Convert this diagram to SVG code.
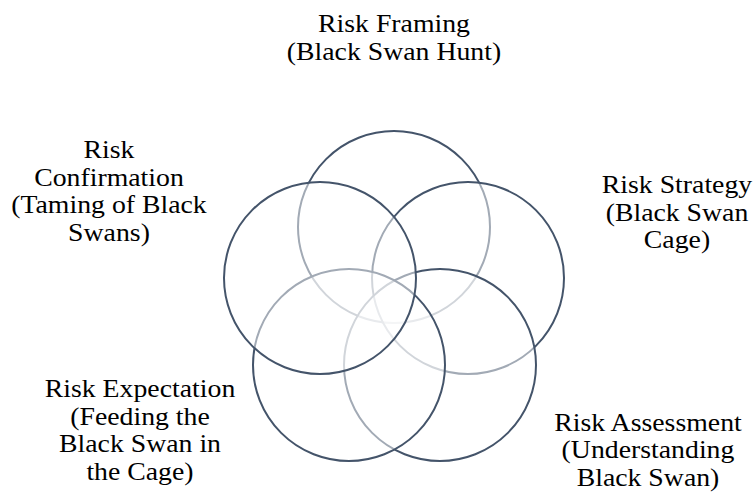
<svg xmlns="http://www.w3.org/2000/svg" width="755" height="494" viewBox="0 0 755 494">
<style>
.c{fill:#ffffff;fill-opacity:0.5;stroke:#44546A;stroke-width:2}
.t{font-family:"Liberation Serif","Times New Roman",serif;font-size:24.8px;fill:#000;text-anchor:middle}
</style>
<rect width="755" height="494" fill="#ffffff"/>
<g id="circles">
<g id="c-framing"><circle class="c" cx="394" cy="227" r="96"/></g>
<g id="c-strategy"><circle class="c" cx="468" cy="278" r="96"/></g>
<g id="c-assessment"><circle class="c" cx="440" cy="365" r="96"/></g>
<g id="c-expectation"><circle class="c" cx="349" cy="365" r="96"/></g>
<g id="c-confirmation"><circle class="c" cx="320" cy="278" r="96"/></g>
</g>
<g id="labels">
<g id="l-framing" transform="translate(394,0) scale(1.12,1)"><text class="t" x="0" y="32">Risk Framing</text><text class="t" x="0" y="59.6">(Black Swan Hunt)</text></g>
<g id="l-strategy" transform="translate(677,0) scale(1.12,1)"><text class="t" x="0" y="193">Risk Strategy</text><text class="t" x="0" y="220.6">(Black Swan</text><text class="t" x="0" y="248.2">Cage)</text></g>
<g id="l-assessment" transform="translate(648,0) scale(1.12,1)"><text class="t" x="0" y="430.6">Risk Assessment</text><text class="t" x="0" y="458.2">(Understanding</text><text class="t" x="0" y="485.8">Black Swan)</text></g>
<g id="l-expectation" transform="translate(140,0) scale(1.12,1)"><text class="t" x="0" y="397">Risk Expectation</text><text class="t" x="0" y="424.6">(Feeding the</text><text class="t" x="0" y="452.2">Black Swan in</text><text class="t" x="0" y="479.8">the Cage)</text></g>
<g id="l-confirmation" transform="translate(109,0) scale(1.12,1)"><text class="t" x="0" y="158">Risk</text><text class="t" x="0" y="185.6">Confirmation</text><text class="t" x="0" y="213.2">(Taming of Black</text><text class="t" x="0" y="240.8">Swans)</text></g>
</g>
</svg>
